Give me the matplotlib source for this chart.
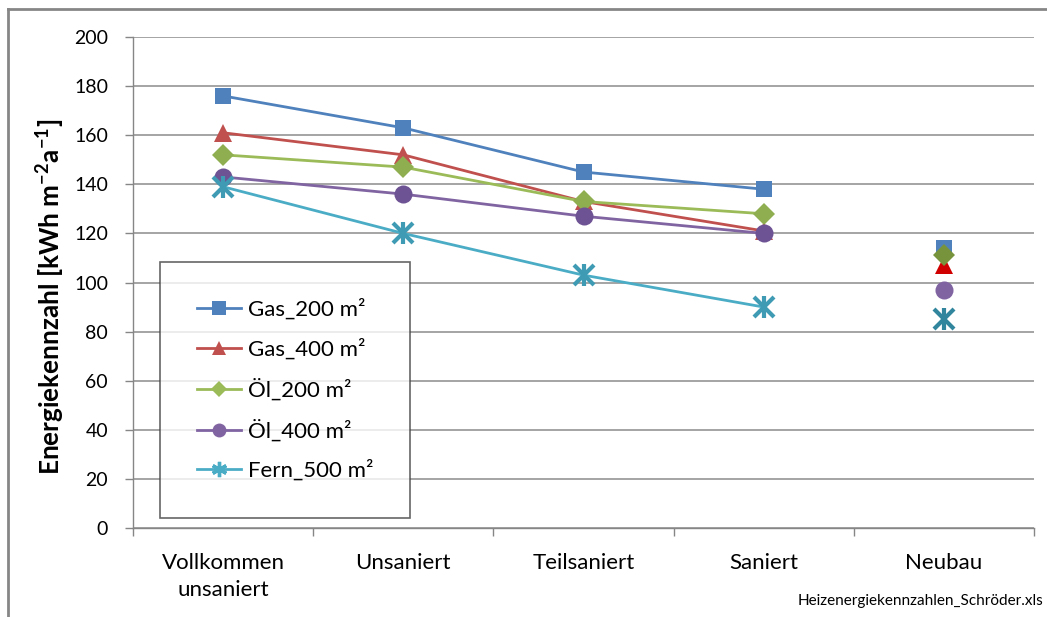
import matplotlib
matplotlib.use("Agg")
import matplotlib.pyplot as plt
from matplotlib.lines import Line2D
import numpy as np

plt.rcParams['font.family'] = ['Lato', 'DejaVu Sans']

categories = ["Vollkommen\nunsaniert", "Unsaniert", "Teilsaniert", "Saniert", "Neubau"]
series_names = ["Gas_200 m²", "Gas_400 m²", "Öl_200 m²", "Öl_400 m²", "Fern_500 m²"]
gas_200 = [176, 163, 145, 138, 114]
gas_400 = [161, 152, 133, 121, 107]
oel_200 = [152, 147, 133, 128, 111]
oel_400 = [143, 136, 127, 120, 97]
fern_500 = [139, 120, 103, 90, 85]
y_ticks = [0, 20, 40, 60, 80, 100, 120, 140, 160, 180, 200]

series_values = [gas_200, gas_400, oel_200, oel_400, fern_500]
line_colors = ["#4F81BD", "#C0504D", "#9BBB59", "#8064A2", "#4BACC6"]
marker_colors = ["#4F81BD", "#C0504D", "#8FAE4F", "#6E5394", "#3E9BB3"]
neubau_colors = ["#4F81BD", "#D00000", "#77933C", "#8064A2", "#31859C"]
markers = ["s", "^", "D", "o", "x"]
marker_sizes = [12, 13, 11, 13, 14]

W, H = 1047, 617
fig = plt.figure(figsize=(W / 100, H / 100), dpi=100)
ax = fig.add_axes([133 / W, 1 - 528 / H, (1034 - 133) / W, (528 - 37) / H])

x = np.arange(len(categories))
n_line = len(categories) - 1

for vals, name, lc, mc, nc, mk, ms in zip(series_values, series_names, line_colors,
                                         marker_colors, neubau_colors, markers, marker_sizes):
    v = np.array(vals, dtype=float)
    mew = 3 if mk == "x" else 0
    ax.plot(x[:n_line], v[:n_line], color=lc, lw=2.0, marker=mk, ms=ms,
            markerfacecolor=mc, markeredgecolor=mc, markeredgewidth=mew,
            label=name, zorder=3)
    if mk == "x":
        ax.plot(x[n_line:], v[n_line:], ls="none", marker="x", ms=ms, mew=3,
                color=nc, zorder=3)
        ax.plot(x[n_line:], v[n_line:], ls="none", marker="|", ms=ms * 1.15, mew=3,
                color=nc, zorder=3)
        ax.plot(x[:n_line], v[:n_line], ls="none", marker="|", ms=ms * 1.15, mew=3,
                color=mc, zorder=3)
    else:
        ax.plot(x[n_line:], v[n_line:], ls="none", marker=mk, ms=ms,
                markerfacecolor=nc, markeredgewidth=0, zorder=3)

ax.set_xlim(-0.5, len(categories) - 0.5)
ax.set_ylim(0, 200)
ax.set_yticks(y_ticks)
ax.set_xticks(x)
ax.set_xticklabels(categories, fontsize=16, color="#000000", linespacing=1.45)
ax.set_xticks(np.arange(len(categories) + 1) - 0.5, minor=True)
ax.tick_params(axis="x", which="major", length=0, pad=18)
ax.tick_params(axis="x", which="minor", length=6, color="#868686", width=1)
ax.tick_params(axis="y", length=6, color="#868686", width=1, labelsize=14, pad=12)
ax.grid(axis="y", color="#8C8C8C", lw=1.1)
ax.set_axisbelow(True)
for side in ["top", "right"]:
    ax.spines[side].set_visible(False)
for side in ["left", "bottom"]:
    ax.spines[side].set_color("#868686")
    ax.spines[side].set_linewidth(1)

ax.set_ylabel("Energiekennzahl [kWh m$^{\\mathregular{-2}}$a$^{\\mathregular{-1}}$]",
              fontsize=18.8, fontweight="bold")
ax.yaxis.set_label_coords(-0.073, 0.47)

# legend with line + marker handles
handles = []
for name, lc, mk in zip(series_names, line_colors, markers):
    if mk == "x":
        h = Line2D([], [], color=lc, lw=2.0, marker=(6, 2, 0), ms=11, mew=2.4,
                   markeredgecolor=lc)
    else:
        h = Line2D([], [], color=lc, lw=2.0, marker=mk, ms=10 if mk != "D" else 8,
                   markerfacecolor=lc, markeredgewidth=0)
    handles.append(h)
leg = fig.legend(handles, series_names, loc="upper left",
                 bbox_to_anchor=(160 / W, 1 - 262 / H), fontsize=16,
                 frameon=True, fancybox=False, edgecolor="#404040",
                 handlelength=2.0, handletextpad=0.3, labelspacing=0.83,
                 borderpad=1.65, borderaxespad=0)
leg.get_frame().set_linewidth(1.2)

# outer chart border (left and top edges)
fig.add_artist(Line2D([8 / W, 8 / W], [0, 1 - 9 / H], color="#868686", lw=2,
                      transform=fig.transFigure))
fig.add_artist(Line2D([8 / W, 1], [1 - 9 / H, 1 - 9 / H], color="#868686", lw=2,
                      transform=fig.transFigure))

fig.text(1043 / W, 1 - 601 / H, "Heizenergiekennzahlen_Schröder.xls", fontsize=11,
         ha="right", va="center")

fig.savefig("out.png", dpi=100, facecolor="white")
